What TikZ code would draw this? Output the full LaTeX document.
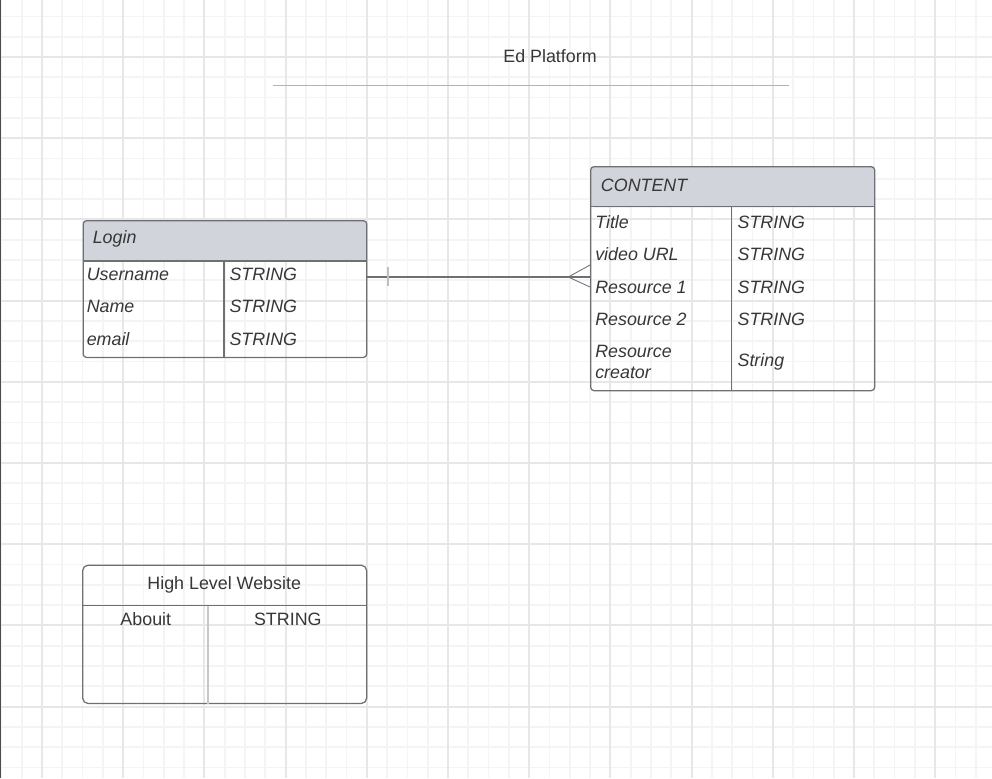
\documentclass[tikz,border=0pt]{standalone}
\usepackage{fontspec}
\setsansfont{Liberation Sans}
\usetikzlibrary{calc}

\definecolor{gridminor}{RGB}{244,244,244}
\definecolor{gridmajor}{RGB}{231,231,231}
\definecolor{edge}{RGB}{110,112,116}
\definecolor{hdrgray}{RGB}{209,212,218}
\definecolor{ink}{RGB}{55,55,55}
\definecolor{rulecol}{RGB}{176,179,190}

\begin{document}
\begin{tikzpicture}[
    x=0.025cm, y=-0.025cm,
    every node/.style={font=\sffamily\fontsize{12.7}{15}\selectfont, text=ink, inner sep=0pt},
    tbl/.style={draw=edge, line width=0.9pt, rounded corners=2.5pt, anchor=north west},
    hdrtbl/.style={tbl, path picture={\fill[hdrgray] (path picture bounding box.north west) rectangle ([yshift=-#1]path picture bounding box.north east);}},
    field/.style={anchor=base west, font=\sffamily\itshape\fontsize{12.7}{15}\selectfont},
    sep/.style={draw=edge, line width=0.9pt},
    link/.style={draw=edge, line width=0.8pt},
  ]
  \useasboundingbox (0,0) rectangle (992,778);
  \fill[white] (0,0) rectangle (992,778);

  % Grid
  \foreach \k in {0,...,48}
    \draw[gridminor, line width=1.2pt] ({1.4+20.3*\k},0) -- ++(0,778);
  \foreach \k in {0,...,37}
    \draw[gridminor, line width=1.2pt] (0,{16.4+20.3*\k}) -- ++(992,0);
  \foreach \k in {0,...,11}
    \draw[gridmajor, line width=1.3pt] ({42+81.2*\k},0) -- ++(0,778);
  \foreach \k in {0,...,8}
    \draw[gridmajor, line width=1.3pt] (0,{57+81.2*\k}) -- ++(992,0);
  \draw[black!70, line width=1pt] (0.6,0) -- (0.6,778);

  % Title
  \node[anchor=base] (title) at (550,62.5) {Ed Platform};
  \draw[rulecol, line width=1.2pt] (273,85.5) -- (789,85.5);

  % Login table
  \node[hdrtbl=1.025cm, minimum width=7.09cm, minimum height=3.42cm] (login) at (82.5,220) {};
  \draw[sep] ($(login.north west)+(0,41)$) -- ($(login.north east)+(0,41)$);
  \draw[sep] ($(login.north west)+(141.5,41)$) -- ($(login.south west)+(141.5,0)$);
  \node[field] (loginhead) at (92.5,243.5) {Login};
  \node[field] (username) at (86.5,280.5) {Username};
  \node[field] (name)     at (86.5,312.5) {Name};
  \node[field] (email)    at (86.5,345)   {email};
  \node[field] (usertype) at (229.3,280.5) {STRING};
  \node[field] (nametype) at (229.3,312.5) {STRING};
  \node[field] (mailtype) at (229.3,345)   {STRING};

  % Content table
  \node[hdrtbl=1.0175cm, minimum width=7.1cm, minimum height=5.6cm] (content) at (590,166) {};
  \draw[sep] ($(content.north west)+(0,40.7)$) -- ($(content.north east)+(0,40.7)$);
  \draw[sep] ($(content.north west)+(141.7,40.7)$) -- ($(content.south west)+(141.7,0)$);
  \node[field] (contenthead) at (600.7,191.7) {CONTENT};
  \node[field] (title)    at (595,228.3) {Title};
  \node[field] (video)    at (595,260)   {video URL};
  \node[field] (res1)     at (595,293)   {Resource 1};
  \node[field] (res2)     at (595,325.7) {Resource 2};
  \node[field, align=left] (creator) at (595,378.3) {Resource\\creator};
  \node[field] (titletype)   at (737.3,228.3) {STRING};
  \node[field] (videotype)   at (737.3,260)   {STRING};
  \node[field] (res1type)    at (737.3,293)   {STRING};
  \node[field] (res2type)    at (737.3,325.7) {STRING};
  \node[field] (creatortype) at (737.3,366.7) {String};

  % Website table
  \node[tbl, rounded corners=4pt, minimum width=7.1cm, minimum height=3.46cm] (site) at (82,564.5) {};
  \draw[sep] ($(site.north west)+(0,41)$) -- ($(site.north east)+(0,41)$);
  \draw[black!22, line width=1.4pt] ($(site.north west)+(126.3,41)$) -- ($(site.south west)+(126.3,0)$);
  \node[anchor=base] (sitehead) at (224.2,589.3) {High Level Website};
  \node[anchor=base] (about)    at (145.8,625)   {Abouit};
  \node[anchor=base] (abouttype) at (287.8,625)  {STRING};

  % Relation
  \coordinate (joint) at (478,277);
  \draw[link] (joint -| login.east) -- (joint -| content.west);
  \draw[black!25, line width=1pt] ($(joint -| login.east)+(20.5,-10)$) -- ++(0,19);
  \draw[link, line width=0.6pt] ($(joint -| content.west)+(0,-12)$) -- ($(joint -| content.west)+(-21.7,0)$)
    -- ($(joint -| content.west)+(0,10)$);
\end{tikzpicture}
\end{document}
